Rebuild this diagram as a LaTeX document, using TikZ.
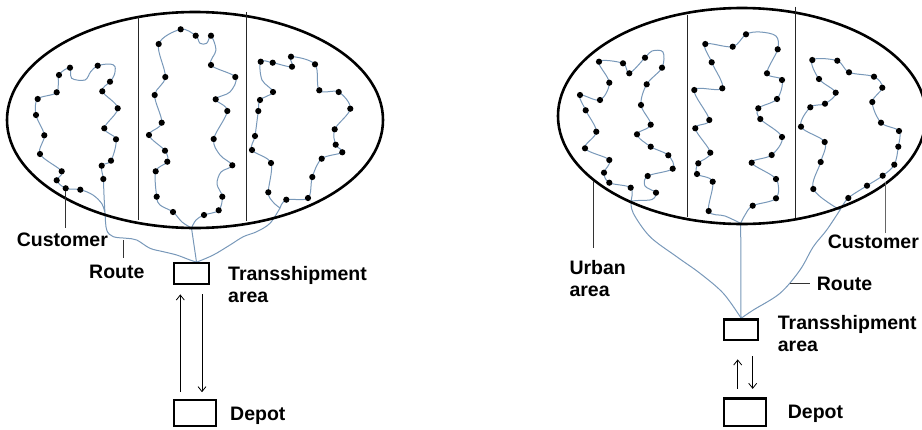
\documentclass[tikz,border=0pt]{standalone}
\usepackage{fontspec}
\setmainfont{Liberation Sans}
\usetikzlibrary{arrows.meta}
\definecolor{routec}{RGB}{120,152,185}
\begin{document}
\begin{tikzpicture}[x=1pt,y=-1pt,
  route/.style={routec, line width=1pt, line join=round, line cap=round},
  ringline/.style={black, line width=2.6pt},
  boxn/.style={draw=black, line width=2.2pt, inner sep=0pt},
  lbl/.style={font=\fontsize{19.5}{22}\selectfont\bfseries, inner sep=0pt, anchor=north west, align=left},
  divider/.style={line width=0.9pt, black!85},
  leader/.style={line width=0.9pt, black!80},
  arr/.style={line width=0.8pt, black, -{Straight Barb[length=5pt,width=8pt]}},
]
\useasboundingbox (0,0) rectangle (922,429);
\clip (0,0) rectangle (922,429);

% ---------------- LEFT DIAGRAM ----------------
% routes
\draw[route] plot[smooth, tension=0.55] coordinates {(196,262) (190,260) (176.7,255) (163.3,251.7) (150,248.3) (136.7,240) (126.7,238.3) (113.3,236.7) (106.7,230) (105,213) (104,195) (103.3,179) (101.7,165.7) (111,160.7) (116,139.3) (104.3,128.3) (117.7,108.3) (102.3,91.3) (110,81.7) (114.3,75) (115,66.7) (110,64) (97.7,65.7) (90.7,71.7) (85,80) (71.7,78.3) (70,67.7) (59,75) (56.7,92.3) (37.7,99) (36,115) (44.3,135.3) (40,154) (61.7,171.3) (56.7,180.3) (65.7,188.3) (80.3,189.7) (93,195) (102,204) (105.5,215)};
\draw[route] (196.5,262) -- (191.5,228);
\draw[route] plot[smooth, tension=0.55] coordinates {(191.5,228) (182,222) (173,212) (160,205) (156.7,196.7) (155.7,171.3) (167.3,161.7) (165,150.7) (149,135) (161.7,122.7) (154.7,95) (165.3,77) (158.7,44) (180.7,29.3) (195.7,35.7) (200,43.3) (206.7,43.3) (211,35.7) (216,50) (211,65) (235.3,77) (230,92) (215.7,99.3) (227.3,111) (213.7,139) (220,155) (232.3,165.3) (221,172) (217,184) (222.3,196.7) (218.7,210.3) (204,215) (196,220) (191.5,228)};
\draw[route] plot[smooth, tension=0.55] coordinates {(197,262) (213.3,255) (230,245) (243.3,236.7) (256.7,231.7) (270,223.3) (280,208)};
\draw[route] plot[smooth, tension=0.55] coordinates {(280,208) (286.3,199.7) (308,198) (312.3,177) (321.7,158.7) (342.3,152.3) (335.7,144.7) (334.7,129.3) (350.3,108.7) (338.7,92) (319.3,90.3) (315,64.3) (291,56.7) (292,66.7) (272.7,62.7) (260.7,61.7) (262,80) (273,92) (260,100) (258.3,111) (255,136) (252,150) (271,163) (268.3,192.3) (273,202) (280,208)};

% dots
\foreach \x/\y in {70/67.7,97.7/65.7,59/75,110/81.7,56.7/92.3,102.3/91.3,37.7/99,117.7/108.3,36/115,104.3/128.3,44.3/135.3,116/139.3,40/154,111/160.7,101.7/165.7,61.7/171.3,103.3/179,56.7/180.3,65.7/188.3,80.3/189.7,
180.7/29.3,195.7/35.7,211/35.7,158.7/44,211/65,235.3/77,165.3/77,154.7/95,215.7/99.3,227.3/111,161.7/122.7,149/135,213.7/139,165/150.7,167.3/161.7,232.3/165.3,155.7/171.3,156.7/196.7,222.3/196.7,173/212,204/215,218.7/210.3,
260.7/61.7,272.7/62.7,291/56.7,292/66.7,315/64.3,319.3/90.3,338.7/92,350.3/108.7,273/92,260/100,258.3/111,334.7/129.3,255/136,335.7/144.7,252/150,342.3/152.3,271/163,321.7/158.7,312.3/177,268.3/192.3,286.3/199.7,308/198}
  \fill (\x,\y) circle (3.1pt);

% urban area
\draw[ringline] (195,120) ellipse [x radius=188pt, y radius=108pt];
\draw[divider] (138,17) -- (138,220);
\draw[divider] (246,12) -- (246,221);

% boxes
\node[boxn, minimum width=35.1pt, minimum height=20.8pt] (ts1) at (191.35,273.5) {};
\node[boxn, minimum width=42.4pt, minimum height=25.5pt] (dep1) at (195,412.85) {};
\coordinate (ua1) at (180.3,0);
\coordinate (da1) at (202,0);
\draw[arr, shorten <=6.8pt, shorten >=9.4pt] (dep1.north -| ua1) -- (ts1.south -| ua1);
\draw[arr, shorten <=9.4pt, shorten >=6.8pt] (ts1.south -| da1) -- (dep1.north -| da1);

% labels and leaders
\draw[leader] (65.7,191) -- (65.7,228.3);
\draw[leader] (123.3,240) -- (123.3,258.3);
\node[lbl] (cust1) at (16.7,233) {Customer};
\node[lbl] (route1) at (89,265) {Route};
\node[lbl] (tsl1) at (228,266) {Transshipment\\area};
\node[lbl] (depl1) at (230,406.7) {Depot};

% ---------------- RIGHT DIAGRAM ----------------
\draw[route] plot[smooth, tension=0.55] coordinates {(741,318) (723.3,293.3) (700,273.3) (676.7,256.7) (650,236.7) (633.3,213.3) (631,201)};
\draw[route] plot[smooth, tension=0.55] coordinates {(631,201) (630.7,187.7) (609.3,182.7) (604,172.7) (609.3,160) (585,148.3) (596.3,131.7) (585.7,110.3) (580,95) (600,100) (609.3,82.7) (599,61.7) (623,63.3) (629.3,73.3) (645,57.7) (652,51) (663,52) (662,67.7) (646.7,84.3) (641,105) (650.7,124.7) (637,134.3) (650.7,146.7) (668.3,155.3) (672.7,168.7) (647.7,176) (645,186) (656,192.7) (652,199.5) (638,200.5) (631,201)};
\draw[route] (741,318) -- (740.7,223.3);
\draw[route] plot[smooth, tension=0.55] coordinates {(740.7,223.3) (725,216) (708.7,211) (712.7,181.7) (697,174) (698.3,163.3) (710.3,152.7) (695.3,128.3) (709.3,120) (694.3,90) (722.3,88.3) (711.7,62.3) (705.3,44) (732.7,46.7) (746,34.3) (760,32) (776,36) (777.7,49.3) (767,73.3) (782,80) (777,99) (758.3,108.3) (760.3,119) (782,137) (771.7,155) (751.7,162.7) (776,179) (776,198.3) (752.7,205.7) (745,215) (740.7,223.3)};
\draw[route] plot[smooth, tension=0.55] coordinates {(741.5,318) (753.3,310) (780,293.3) (800,270) (813.3,246.7) (826.7,230) (840,210)};
\draw[route] plot[smooth, tension=0.55] coordinates {(840,210) (813.3,189) (820.7,162) (824.7,142) (801,126.7) (810.3,107.3) (825,103.7) (835.7,92.7) (819,79) (812.3,60) (837.3,60.7) (849,72.3) (874,76.7) (882.3,87.7) (872.3,102) (881,122.7) (899,131) (898.3,146.7) (894.3,164.7) (882.7,175.7) (867,185.7) (848.3,198) (840,210)};

\foreach \x/\y in {599/61.7,623/63.3,645/57.7,662/67.7,629.3/73.3,609.3/82.7,646.7/84.3,580/95,600/100,585.7/110.3,641/105,650.7/124.7,596.3/131.7,637/134.3,585/148.3,650.7/146.7,668.3/155.3,609.3/160,672.7/168.7,604/172.7,647.7/176,609.3/182.7,630.7/187.7,656/192.7,
746/34.3,705.3/44,732.7/46.7,777.7/49.3,711.7/62.3,767/73.3,782/80,694.3/90,722.3/88.3,777/99,758.3/108.3,760.3/119,709.3/120,695.3/128.3,782/137,710.3/152.7,771.7/155,698.3/163.3,751.7/162.7,697/174,712.7/181.7,776/179,776/198.3,752.7/205.7,708.7/211,
812.3/60,837.3/60.7,849/72.3,874/76.7,882.3/87.7,819/79,835.7/92.7,825/103.7,810.3/107.3,872.3/102,881/122.7,801/126.7,899/131,824.7/142,898.3/146.7,820.7/162,894.3/164.7,882.7/175.7,867/185.7,813.3/189,848.3/198}
  \fill (\x,\y) circle (3.1pt);

\draw[ringline] (742,116) ellipse [x radius=184pt, y radius=108pt];
\draw[divider] (687.7,15) -- (687.7,216.7);
\draw[divider] (795.3,6.7) -- (795.3,218);

\node[boxn, minimum width=34.4pt, minimum height=20.2pt] (ts2) at (741,329.5) {};
\node[boxn, minimum width=42.1pt, minimum height=27.2pt] (dep2) at (744.85,412) {};
\coordinate (ua2) at (737.7,0);
\coordinate (da2) at (752.7,0);
\draw[arr, shorten <=8.4pt, shorten >=18.7pt] (dep2.north -| ua2) -- (ts2.south -| ua2);
\draw[arr, shorten <=15.4pt, shorten >=8.4pt] (ts2.south -| da2) -- (dep2.north -| da2);

\draw[leader] (593.7,181) -- (593.7,248.3);
\draw[leader, black!60] (885,182) -- (885,233);
\draw[leader] (790,283) -- (810,283);
\node[lbl] (urban2) at (569.3,260) {Urban\\area};
\node[lbl] (cust2) at (827.7,235) {Customer};
\node[lbl] (route2) at (816.7,276.7) {Route};
\node[lbl] (tsl2) at (777.7,315) {Transshipment\\area};
\node[lbl] (depl2) at (787.7,405) {Depot};
\end{tikzpicture}
\end{document}
